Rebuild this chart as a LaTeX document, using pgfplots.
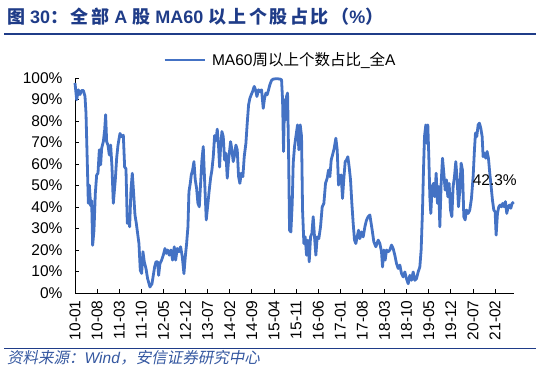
\documentclass[border=0pt]{standalone}
\usepackage{fontspec}
\setmainfont{Liberation Sans}
\newfontfamily\cjk{Noto Sans CJK SC}
\newfontfamily\cjkt[LetterSpace=14]{Noto Sans CJK SC}
\newfontfamily\cjksl[FakeSlant=0.2]{Noto Sans CJK SC}
\usepackage{pgfplots}
\pgfplotsset{compat=1.18}
\definecolor{lineblue}{HTML}{4472C4}
\definecolor{titleblue}{HTML}{1F3C88}
\definecolor{srcblue}{HTML}{3457A0}
\begin{document}
\begin{tikzpicture}
\path[use as bounding box] (0pt,0pt) rectangle (548pt,373pt);
\node[anchor=west, text=titleblue, inner sep=0pt] at (7pt,356pt)
  {\fontsize{18}{20}\selectfont\bfseries {\cjkt 图} 30{\cjkt ：全部} A {\cjkt 股} MA60 {\cjkt 以上个股占比（}\%{\cjkt ）}};
\draw[titleblue, line width=1.2pt] (4pt,339pt) -- (536pt,339pt);
\draw[titleblue, line width=0.8pt] (4pt,25pt) -- (536pt,25pt);
\node[anchor=west, text=srcblue, inner sep=0pt] at (7pt,15pt)
  {\fontsize{15.5}{18}\selectfont{\cjksl 资料来源：}\textit{Wind}{\cjksl ，安信证券研究中心}};
\begin{axis}[
  at={(75pt,80pt)}, anchor=south west,
  scale only axis, width=439pt, height=215pt,
  xmin=0, xmax=139, ymin=0, ymax=100,
  axis x line=bottom, axis y line=left,
  axis line style={-, line width=0.8pt, black},
  tick align=inside, major tick length=4pt,
  tick style={line width=0.8pt, black},
  xtick={0,7,...,133},
  xticklabels={10-01,10-08,11-03,11-10,12-05,12-12,13-07,14-02,14-09,15-04,15-11,16-06,17-01,17-08,18-03,18-10,19-05,19-12,20-07,21-02},
  x tick label style={rotate=90, anchor=east, font=\fontsize{15.5}{18}\selectfont, yshift=0pt, xshift=-4pt},
  ytick={0,10,...,100},
  yticklabel={\pgfmathprintnumber{\tick}\%},
  y tick label style={font=\fontsize{15.5}{18}\selectfont, xshift=-9pt},
  /pgf/number format/assume math mode=true,
  legend style={at={(axis description cs:0.2005,1.0837)}, anchor=west, draw=none, fill=none,
    inner sep=0pt, font=\fontsize{15.5}{18}\selectfont, column sep=4pt},
  legend image code/.code={\draw[#1, line width=2.8pt] (0pt,0pt) -- (40pt,0pt);},
  clip=false,
]
\addplot[lineblue, line width=2.8pt, line join=round] coordinates {
(0,97.7)(0.53,89.9)(1.05,94.5)(1.58,92.3)(2.11,94.2)(2.64,94.2)(3.16,91.5)(3.48,83.7)(3.90,60.3)(4.22,41.7)(4.54,50.2)(4.96,40.5)(5.27,42.9)(5.59,22.2)(6.01,29.2)(6.43,46.3)(6.86,54.9)(7.28,55.7)(7.70,66.6)(8.12,59.6)(8.44,67.3)(8.97,70.4)(9.39,75.8)(9.70,82.9)(10.02,70.4)(10.44,68.8)(10.86,64.2)(11.29,68.8)(11.71,58.6)(12.13,41.7)(12.76,52.6)(13.19,62.7)(13.61,68.8)(14.24,74.2)(14.77,72.7)(15.30,73.4)(15.72,58.6)(16.14,57.8)(16.56,32.4)(16.98,34.7)(17.30,30.8)(17.72,47.9)(18.14,55.7)(18.57,46.3)(18.99,36.3)(19.41,32.4)(19.83,27.7)(20.25,23.0)(20.67,10.6)(21.10,9.1)(21.52,19.2)(21.94,14.5)(22.47,11.4)(22.99,6.7)(23.73,2.8)(24.37,4.3)(24.79,8.2)(25.21,12.1)(25.63,14.5)(26.16,14.5)(26.48,8.2)(26.90,13.7)(27.43,15.3)(27.95,17.6)(28.48,20.7)(28.90,18.4)(29.32,20.0)(29.85,17.6)(30.38,20.0)(30.91,15.3)(31.43,21.5)(31.86,15.3)(32.38,20.7)(32.91,19.2)(33.44,21.5)(33.97,16.8)(34.49,9.0)(34.92,16.8)(35.34,23.0)(35.76,30.8)(36.08,47.1)(36.50,51.0)(36.81,54.9)(37.24,57.2)(37.66,61.1)(38.08,52.6)(38.50,48.7)(38.92,41.7)(39.35,40.1)(39.77,51.0)(40.19,61.9)(40.61,68.1)(41.03,52.6)(41.56,34.0)(42.09,41.7)(42.51,47.9)(42.93,53.4)(43.35,57.2)(43.78,63.4)(44.20,73.2)(44.62,70.8)(45.04,76.2)(45.46,68.1)(45.78,58.6)
(46.10,68.1)(46.52,75.1)(46.94,72.7)(47.36,61.9)(47.78,65.0)(48.21,53.4)(48.63,61.9)(49.26,70.4)(49.68,66.6)(50.10,61.1)(50.53,64.2)(50.95,68.8)(51.37,66.6)(51.79,54.1)(52.21,51.0)(52.64,55.7)(53.16,54.1)(53.58,63.4)(54.11,69.6)(54.53,79.0)(54.96,87.5)(55.38,90.6)(55.80,92.2)(56.22,93.7)(56.75,96.1)(57.17,94.5)(57.59,91.4)(58.12,94.5)(58.54,93.7)(59.07,94.5)(59.60,85.9)(60.02,90.6)(60.44,93.0)(60.86,92.2)(61.29,94.5)(61.71,96.9)(62.23,98.9)(62.76,99.5)(63.82,99.7)(64.87,99.5)(65.40,99.2)(65.72,89.9)(66.03,65.8)(66.35,89.9)(66.67,80.5)(66.98,91.4)(67.30,93.0)(67.61,66.6)(67.93,29.2)(68.35,28.4)(68.78,41.7)(69.09,60.4)(69.51,68.1)(69.94,72.8)(70.46,78.2)(70.88,66.6)(71.31,78.2)(71.73,72.8)(72.05,38.6)(72.47,23.0)(72.89,26.1)(73.31,17.6)(73.73,24.6)(74.16,14.5)(74.58,26.1)(75.00,27.7)(75.42,35.5)(75.84,26.1)(76.26,17.6)(76.69,26.1)(77.21,25.3)(77.74,30.8)(78.27,40.1)(78.80,41.7)(79.32,51.0)(79.85,53.4)(80.27,57.2)(80.70,54.1)(81.12,61.9)(81.54,64.2)(82.07,67.3)(82.59,72.0)(83.02,66.6)(83.44,50.2)(83.86,54.1)(84.28,54.9)(84.70,44.0)(85.13,53.4)(85.55,61.1)(85.97,61.9)(86.39,63.4)(86.81,58.6)(87.24,52.6)(87.66,41.7)(88.08,32.4)(88.50,24.6)(88.92,23.0)(89.35,26.1)(89.77,29.2)
(90.19,25.3)(90.72,28.4)(91.25,26.1)(91.78,30.8)(92.30,33.9)(92.83,35.5)(93.36,36.3)(93.68,33.2)(94.10,29.2)(94.62,23.8)(95.26,21.5)(96.00,24.6)(96.52,23.0)(97.05,19.2)(97.37,12.1)(97.79,20.0)(98.21,15.3)(98.63,20.0)(99.16,19.2)(99.69,20.0)(100.22,22.3)(100.74,20.7)(101.27,17.6)(101.80,13.7)(102.33,11.4)(102.85,13.0)(103.38,9.1)(103.91,7.5)(104.44,9.8)(104.96,6.7)(105.49,4.3)(106.02,8.2)(106.55,5.9)(107.07,9.8)(107.60,5.9)(108.13,6.7)(108.65,9.8)(109.18,12.1)(109.60,20.0)(110.03,38.6)(110.34,57.2)(110.66,72.8)(111.08,78.2)(111.40,69.6)(111.71,78.2)(112.03,63.4)(112.35,44.8)(112.66,37.0)(113.08,49.5)(113.51,51.0)(113.93,44.8)(114.35,55.7)(114.77,41.7)(115.19,49.5)(115.51,30.8)(115.93,51.0)(116.36,62.7)(116.78,55.7)(117.20,47.9)(117.62,52.6)(118.04,44.8)(118.46,51.0)(118.89,38.6)(119.31,35.5)(119.73,49.5)(120.15,54.1)(120.57,61.1)(121.00,52.6)(121.42,40.1)(121.84,47.9)(122.26,60.4)(122.68,57.2)(123.11,35.5)(123.53,34.0)(123.95,38.6)(124.48,37.0)(125.00,38.6)(125.53,44.0)(126.06,54.1)(126.48,66.6)(126.80,74.4)(127.22,72.8)(127.64,78.2)(128.06,79.0)(128.49,76.6)(128.91,72.8)(129.22,63.4)(129.65,65.0)(130.07,62.7)(130.49,65.8)(130.91,62.7)(131.33,55.7)(131.76,49.5)(132.18,43.2)(132.60,38.6)(133.02,37.8)(133.34,26.9)(133.76,37.0)(134.18,40.1)(134.60,40.9)(135.03,40.1)(135.45,41.7)(135.87,40.1)(136.29,42.5)(136.71,37.0)(137.14,40.1)(137.56,40.9)(137.98,39.4)(138.40,41.7)(138.93,42.3)
};
\addlegendentry{MA60{\cjk 周以上个数占比}\_{\cjk 全}A}
\node[font=\fontsize{15.5}{18}\selectfont, inner sep=0pt] at (axis cs:132.9,52.6) {42.3\%};
\end{axis}
\end{tikzpicture}
\end{document}
